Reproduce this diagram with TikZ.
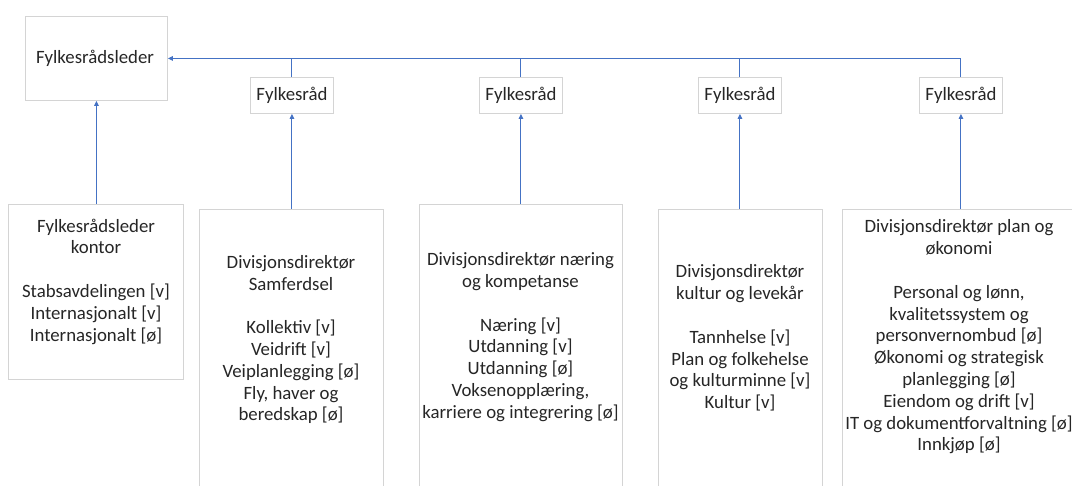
\documentclass[tikz,border=0pt]{standalone}
\usepackage{fontspec}
\setmainfont{Carlito}
\usetikzlibrary{arrows.meta}
\definecolor{boxgray}{HTML}{D4D4D4}
\definecolor{lineblue}{HTML}{4472C4}
\definecolor{txt}{HTML}{262626}
\tikzset{
  box/.style={draw=boxgray, line width=0.9pt, fill=white, inner sep=0pt, anchor=north west},
  lbl/.style={align=center, text=txt, font=\fontsize{18.8}{21.8}\selectfont, inner sep=0pt},
  conn/.style={draw=lineblue, line width=1pt},
  arr/.style={conn, -{Triangle[length=5pt,width=4.5pt]}}
}
\begin{document}
\begin{tikzpicture}[x=1pt,y=-1pt]
\useasboundingbox (0,0) rectangle (1072,486);
\clip (0,0) rectangle (1072,486);
% top leader
\node[box, minimum width=142pt, minimum height=84pt] (lead) at (25,16) {};
\node[lbl] (leadt) at (95,58) {Fylkesrådsleder};
% Fylkesråd boxes
\node[box, minimum width=83pt, minimum height=36pt] (f1) at (250,77) {};
\node[lbl] at (f1.center) {Fylkesråd};
\node[box, minimum width=83pt, minimum height=36pt] (f2) at (479,77) {};
\node[lbl] at (f2.center) {Fylkesråd};
\node[box, minimum width=83pt, minimum height=36pt] (f3) at (698,77) {};
\node[lbl] at (f3.center) {Fylkesråd};
\node[box, minimum width=83pt, minimum height=36pt] (f4) at (919,77) {};
\node[lbl] at (f4.center) {Fylkesråd};
% bottom boxes
\node[box, minimum width=175pt, minimum height=175pt] (b1) at (8,204) {};
\node[lbl] at (96,281.5) {Fylkesrådsleder\\kontor\\[21.8pt]Stabsavdelingen [v]\\Internasjonalt [v]\\Internasjonalt [ø]};
\node[box, minimum width=184pt, minimum height=300pt] (b2) at (199,209) {};
\node[lbl] at (291,339.5) {Divisjonsdirektør\\Samferdsel\\[21.8pt]Kollektiv [v]\\Veidrift [v]\\Veiplanlegging [ø]\\Fly, haver og\\beredskap [ø]};
\node[box, minimum width=203pt, minimum height=300pt] (b3) at (419,204) {};
\node[lbl] at (520.5,337) {Divisjonsdirektør næring\\og kompetanse\\[21.8pt]Næring [v]\\Utdanning [v]\\Utdanning [ø]\\Voksenopplæring,\\karriere og integrering [ø]};
\node[box, minimum width=164pt, minimum height=300pt] (b4) at (658,209) {};
\node[lbl] at (740,338) {Divisjonsdirektør\\kultur og levekår\\[21.8pt]Tannhelse [v]\\Plan og folkehelse\\og kulturminne [v]\\Kultur [v]};
\node[box, minimum width=238pt, minimum height=300pt] (b5) at (842,209) {};
\node[lbl] at (959,337) {Divisjonsdirektør plan og\\økonomi\\[21.8pt]Personal og lønn,\\kvalitetssystem og\\personvernombud [ø]\\Økonomi og strategisk\\planlegging [ø]\\Eiendom og drift [v]\\IT og dokumentforvaltning [ø]\\Innkjøp [ø]};
% connectors
\draw[arr] (b1.north -| lead.south) -- (lead.south);
\draw[arr] (b2.north -| f1.south) -- (f1.south);
\draw[arr] (b3.north -| f2.south) -- (f2.south);
\draw[arr] (b4.north -| f3.south) -- (f3.south);
\draw[arr] (b5.north -| f4.south) -- (f4.south);
\draw[arr] (f4.north) |- (lead.east);
\draw[conn] (f1.north) -- (f1.north |- lead.east);
\draw[conn] (f2.north) -- (f2.north |- lead.east);
\draw[conn] (f3.north) -- (f3.north |- lead.east);
\end{tikzpicture}
\end{document}
